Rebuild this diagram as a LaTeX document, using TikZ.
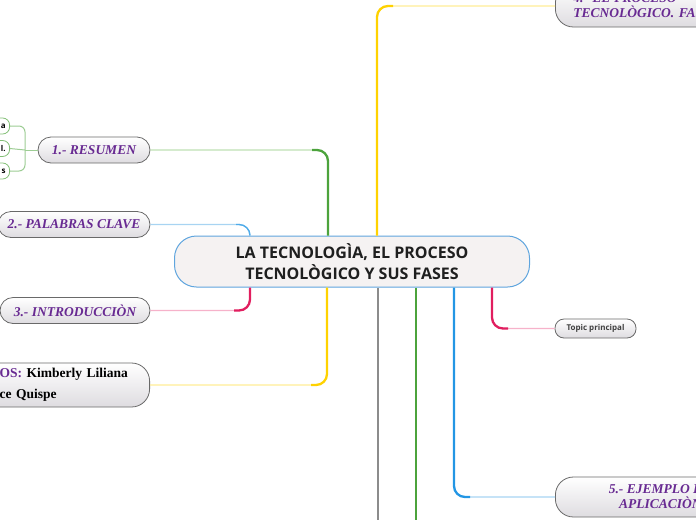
\documentclass[tikz,border=0pt]{standalone}
\usepackage{fontspec}
\setmainfont{Liberation Serif}
\setsansfont{Open Sans}
\usetikzlibrary{calc}
\definecolor{morado}{RGB}{104,42,146}
\definecolor{verde}{RGB}{76,163,60}
\definecolor{verdeclaro}{RGB}{190,225,180}
\definecolor{azul}{RGB}{35,150,228}
\definecolor{azulclaro}{RGB}{168,212,242}
\definecolor{rosa}{RGB}{225,30,95}
\definecolor{rosaclaro}{RGB}{246,178,202}
\definecolor{amarillo}{RGB}{255,210,0}
\definecolor{amarilloclaro}{RGB}{255,236,150}
\definecolor{gris}{RGB}{140,140,140}
\definecolor{bordetema}{RGB}{95,165,222}
\definecolor{fondotema}{RGB}{245,242,242}
\definecolor{bordegris}{RGB}{105,105,105}
\definecolor{grisclaro}{RGB}{222,220,224}
\newcommand\titulo{\rmfamily\bfseries\itshape\fontsize{13.5}{15}\selectfont}
\newcommand\titulob{\rmfamily\bfseries\itshape\fontsize{13.5}{15}\selectfont}
\newcommand\nombre{\rmfamily\bfseries\fontsize{13.5}{21}\selectfont}
\tikzset{
  tema/.style={draw=bordetema, line width=1pt, fill=fondotema, rounded corners=22pt,
    minimum width=355pt, minimum height=51pt, align=center, text=black!88,
    font=\sffamily\bfseries\fontsize{16}{21}\selectfont},
  subtema/.style={draw=bordegris, line width=0.8pt, top color=white, bottom color=grisclaro,
    rounded corners=13pt, minimum height=26pt, inner sep=0pt, align=center,
    text=morado, font=\titulo},
  topico/.style={draw=bordegris, line width=0.8pt, top color=white, bottom color=grisclaro,
    rounded corners=9pt, minimum width=81pt, minimum height=19pt, inner sep=0pt,
    text=black!75, font=\sffamily\bfseries\fontsize{8}{9}\selectfont},
  hoja/.style={draw=verde!70, line width=0.8pt, fill=white, rounded corners=7pt,
    minimum height=16pt, text width=30pt, align=right, inner xsep=4pt, inner ysep=0pt,
    anchor=east, font=\sffamily\bfseries\fontsize{8}{9}\selectfont},
  rama/.style={line width=1.3pt, rounded corners=11pt},
  tallo/.style={line width=2.3pt, rounded corners=11pt}
}
\begin{document}
\begin{tikzpicture}[x=1pt,y=-1pt]
\useasboundingbox (0,0) rectangle (696,520);
\clip (0,0) rectangle (696,520);

\node[tema] (tema) at (352,261.5) {LA TECNOLOGÌA, EL PROCESO\\TECNOLÒGICO Y SUS FASES};

\node[subtema, minimum width=112pt] (resumen) at (94,150) {1.- RESUMEN};
\node[subtema, minimum width=152pt] (palabras) at (74,224.5) {2.- PALABRAS CLAVE};
\node[subtema, minimum width=150pt] (intro) at (75,310.5) {3.- INTRODUCCIÒN};
\node[subtema, minimum height=44pt, rounded corners=18pt, anchor=east, text width=130pt,
  align=left, inner xsep=20pt, text=black, font=\nombre] (autores) at (150,385)
  {\textcolor{morado}{OS:} Kimberly Liliana\\ce Quispe};
\node[subtema, minimum height=42pt, rounded corners=18pt, anchor=west, text width=170pt,
  align=left, inner xsep=18pt] (proceso) at (555,6)
  {4.- EL PROCESO\\TECNOLÒGICO. FASES};
\node[subtema, minimum height=40pt, rounded corners=18pt, anchor=west, minimum width=210pt,
  font=\titulob] (ejemplo) at (555,497) {5.- EJEMPLO DE\\APLICACIÒN};
\node[topico] (topico) at (595.5,328.5) {Topic principal};

\node[hoja] (idea1) at (10,126) {a};
\node[hoja] (idea2) at (10,148.5) {l.};
\node[hoja] (idea3) at (10,171) {s};

\coordinate (xverde) at (328,0);
\coordinate (xazul) at (250,0);
\coordinate (xamarillo) at (327,0);
\coordinate (xamarillo2) at (377,0);
\coordinate (xgris) at (378,0);
\coordinate (xverde2) at (416,0);
\coordinate (xazul2) at (454,0);
\coordinate (xrosa2) at (492,0);
\coordinate (bifurca) at (25,150);
\coordinate (fingris) at (378,520);
\coordinate (finverde) at (416,520);

\coordinate (g1) at (tema.north -| xverde);
\draw[rama, verdeclaro] (g1) |- (resumen.east);
\draw[tallo, verde] (g1) |- ($(g1 |- resumen.east)+(-16,0)$);

\coordinate (a1) at (tema.north -| xazul);
\draw[rama, azulclaro] (a1) |- (palabras.east);
\draw[rama, azul!80] (a1) |- ($(a1 |- palabras.east)+(-14,0)$);

\coordinate (r1) at (tema.south -| xazul);
\draw[rama, rosaclaro] (r1) |- (intro.east);
\draw[tallo, rosa] (r1) |- ($(r1 |- intro.east)+(-16,0)$);

\coordinate (y1) at (tema.south -| xamarillo);
\draw[rama, amarilloclaro] (y1) |- (autores.east);
\draw[tallo, amarillo] (y1) |- ($(y1 |- autores.east)+(-16,0)$);

\coordinate (y2) at (tema.north -| xamarillo2);
\draw[rama, amarilloclaro] (y2) |- (proceso.west);
\draw[tallo, amarillo] (y2) |- ($(y2 |- proceso.west)+(16,0)$);

\draw[tallo, gris] (tema.south -| xgris) -- (fingris);
\draw[tallo, verde] (tema.south -| xverde2) -- (finverde);

\coordinate (b2) at (tema.south -| xazul2);
\draw[rama, azulclaro] (b2) |- (ejemplo.west);
\draw[tallo, azul] (b2) |- ($(b2 |- ejemplo.west)+(16,0)$);

\coordinate (r2) at (tema.south -| xrosa2);
\draw[rama, rosaclaro] (r2) |- (topico.west);
\draw[tallo, rosa] (r2) |- ($(r2 |- topico.west)+(16,0)$);

\draw[line width=1pt, verde!55] (resumen.west) -- (bifurca);
\draw[line width=1pt, verde!55, rounded corners=6pt] (bifurca) |- (idea1.east);
\draw[line width=1pt, verde!55] (bifurca) -- (idea2.east);
\draw[line width=1pt, verde!55, rounded corners=6pt] (bifurca) |- (idea3.east);
\end{tikzpicture}
\end{document}
